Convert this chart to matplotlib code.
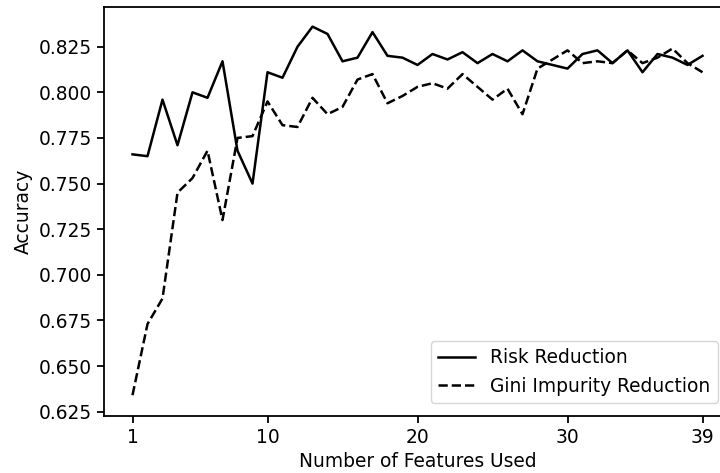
import matplotlib
matplotlib.use("Agg")
import matplotlib.pyplot as plt

n_features = list(range(1, 40))
risk_reduction = [0.766, 0.765, 0.796, 0.771, 0.800, 0.797, 0.817, 0.768, 0.750, 0.811,
                  0.808, 0.825, 0.836, 0.832, 0.817, 0.819, 0.833, 0.820, 0.819, 0.815,
                  0.821, 0.818, 0.822, 0.816, 0.821, 0.817, 0.823, 0.817, 0.815, 0.813,
                  0.821, 0.823, 0.816, 0.823, 0.811, 0.821, 0.819, 0.815, 0.820]
gini_reduction = [0.634, 0.673, 0.687, 0.745, 0.753, 0.768, 0.730, 0.775, 0.776, 0.795,
                  0.782, 0.781, 0.797, 0.788, 0.792, 0.807, 0.810, 0.794, 0.798, 0.803,
                  0.805, 0.802, 0.810, 0.803, 0.796, 0.802, 0.788, 0.813, 0.818, 0.823,
                  0.816, 0.817, 0.816, 0.823, 0.816, 0.819, 0.824, 0.816, 0.811]
xticks = [1, 10, 20, 30, 39]

fs = 13.4
plt.rcParams['font.family'] = ['DejaVu Sans']
fig = plt.figure(figsize=(7.2, 4.73), dpi=100)
ax = fig.add_axes([104/720, 1 - 416/473, 627/720, (416 - 7.3)/473])
ax.plot(n_features, risk_reduction, 'k-', lw=1.8, label='Risk Reduction')
ax.plot(n_features, gini_reduction, 'k--', lw=1.8, label='Gini Impurity Reduction')
ax.set_xticks(xticks)
ax.set_xlabel('Number of Features Used', fontsize=fs)
ax.set_ylabel('Accuracy', fontsize=fs)
ax.tick_params(labelsize=fs, width=1.3, length=5)
for s in ax.spines.values():
    s.set_linewidth(1.3)
ax.set_ylim(0.6226, 0.8466)
ax.set_xlim(-0.9, 40.9)
ax.legend(loc='lower right', fontsize=fs, borderaxespad=0.7)
fig.savefig('out.png', dpi=100)
